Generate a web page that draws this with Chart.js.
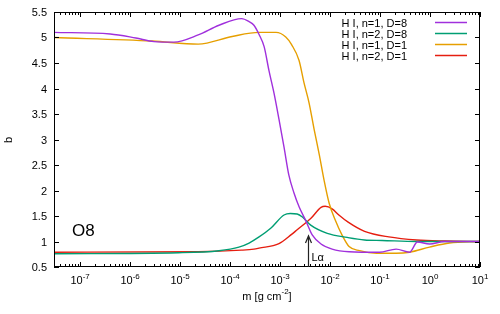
<!DOCTYPE html>
<html>
<head>
<meta charset="utf-8">
<script src="https://cdn.jsdelivr.net/npm/chart.js@4/dist/chart.umd.min.js"></script>
<style>
  html, body { margin: 0; padding: 0; background: #fff; }
  #wrap { width: 500px; height: 314px; position: relative; }
</style>
</head>
<body>
<div id="wrap"><canvas id="chart"></canvas></div>
<script>
// column mass m [g cm^-2] and departure coefficient b
const mN1D8 = [3e-8, 4e-7, 1.3e-6, 3.0e-6, 7.5e-6, 2.3e-5, 6.0e-5, 1.7e-4, 2.4e-4, 3.0e-4, 3.8e-4, 4.8e-4, 6.0e-4, 7.6e-4, 9.5e-4, 1.2e-3, 1.5e-3, 1.9e-3, 2.4e-3, 3.3e-3, 4.4e-3, 6.6e-3, 1.1e-2, 2.4e-2, 9.8e-2, 0.21, 0.39, 0.56, 0.98, 1.95, 10];
const bN1D8 = [5.10, 5.07, 4.99, 4.92, 4.91, 5.05, 5.24, 5.37, 5.31, 5.24, 5.06, 4.82, 4.35, 3.90, 3.40, 2.85, 2.30, 1.95, 1.68, 1.40, 1.13, 0.95, 0.85, 0.80, 0.79, 0.85, 0.79, 0.99, 0.95, 1.0, 1.0];

const mN2D8 = [3e-8, 9.3e-6, 6.0e-5, 1.5e-4, 2.4e-4, 3.8e-4, 6.5e-4, 1.2e-3, 1.6e-3, 2.2e-3, 2.8e-3, 4.1e-3, 8.8e-3, 2.2e-2, 4.9e-2, 0.11, 0.54, 10];
const bN2D8 = [0.76, 0.78, 0.82, 0.89, 0.97, 1.09, 1.26, 1.52, 1.55, 1.54, 1.48, 1.32, 1.16, 1.08, 1.03, 1.02, 1.0, 1.0];

const mN1D1 = [3e-8, 2.8e-6, 2.3e-5, 1.1e-4, 3.8e-4, 8.3e-4, 1.3e-3, 1.7e-3, 2.4e-3, 3.0e-3, 3.8e-3, 4.8e-3, 6.1e-3, 7.6e-3, 9.6e-3, 1.27e-2, 1.75e-2, 2.4e-2, 3.9e-2, 8.5e-2, 0.21, 0.39, 0.98, 2.45, 10];
const bN1D1 = [5.00, 4.93, 4.87, 5.02, 5.10, 5.10, 5.01, 4.86, 4.55, 4.12, 3.72, 3.20, 2.70, 2.20, 1.75, 1.42, 1.12, 0.90, 0.82, 0.77, 0.77, 0.79, 0.89, 0.97, 1.0];

const mN2D1 = [3e-8, 2.3e-5, 1.7e-4, 3.0e-4, 3.8e-4, 9.5e-4, 1.7e-3, 2.2e-3, 4.1e-3, 6.6e-3, 8.0e-3, 1.1e-2, 1.5e-2, 2.3e-2, 4.9e-2, 0.15, 0.54, 2.0, 10];
const bN2D1 = [0.79, 0.80, 0.83, 0.85, 0.87, 0.96, 1.14, 1.23, 1.45, 1.67, 1.69, 1.64, 1.52, 1.38, 1.20, 1.09, 1.03, 1.01, 1.0];

const seriesLabels = ['H I, n=1, D=8', 'H I, n=2, D=8', 'H I, n=1, D=1', 'H I, n=2, D=1'];
const seriesColors = ['#a030dc', '#009e73', '#e69f00', '#e51e10'];

const yTicks = [0.5, 1, 1.5, 2, 2.5, 3, 3.5, 4, 4.5, 5, 5.5];
const xTickExps = [-7, -6, -5, -4, -3, -2, -1, 0, 1];

const lyaM = 3.7e-3;   // L-alpha marker
const lyaTop = 1.11;

const FONT = '"Liberation Sans", Arial, sans-serif';

function pts(ms, bs) {
  return ms.map((m, i) => ({ x: m, y: bs[i] }));
}

const decor = {
  id: 'decor',
  afterDatasetsDraw(chart) {
    const { ctx, chartArea: a, scales } = chart;
    const x = scales.x, y = scales.y;
    ctx.save();
    ctx.fillStyle = '#000';
    ctx.strokeStyle = '#000';
    ctx.lineWidth = 1;

    // frame
    ctx.strokeRect(a.left + 0.5, a.top + 0.5, a.right - a.left - 1, a.bottom - a.top - 1);

    // y ticks + labels
    ctx.font = '11px ' + FONT;
    ctx.textAlign = 'right';
    ctx.textBaseline = 'middle';
    yTicks.forEach(v => {
      const py = Math.round(y.getPixelForValue(v)) + 0.5;
      ctx.beginPath();
      ctx.moveTo(a.left, py); ctx.lineTo(a.left + 5, py);
      ctx.moveTo(a.right, py); ctx.lineTo(a.right - 5, py);
      ctx.stroke();
      ctx.fillText(String(v), a.left - 7, py);
    });

    // x ticks, major + minor
    const tick = (v, len) => {
      const px = Math.round(x.getPixelForValue(v)) + 0.5;
      ctx.beginPath();
      ctx.moveTo(px, a.bottom); ctx.lineTo(px, a.bottom - len);
      ctx.moveTo(px, a.top); ctx.lineTo(px, a.top + len);
      ctx.stroke();
    };
    for (let e = -8; e <= 0; e++) {
      for (let k = 2; k <= 9; k++) {
        const v = k * Math.pow(10, e);
        if (v >= x.min && v <= x.max) tick(v, 3);
      }
    }
    xTickExps.forEach(e => tick(Math.pow(10, e), 5));

    // x labels as 10^e
    ctx.textAlign = 'left';
    ctx.textBaseline = 'alphabetic';
    xTickExps.forEach(e => {
      const px = x.getPixelForValue(Math.pow(10, e));
      const ex = String(e);
      ctx.font = '11px ' + FONT;
      const wb = ctx.measureText('10').width;
      ctx.font = '8px ' + FONT;
      const we = ctx.measureText(ex).width;
      const x0 = px - (wb + we) / 2;
      ctx.font = '11px ' + FONT;
      ctx.fillText('10', x0, 284);
      ctx.font = '8px ' + FONT;
      ctx.fillText(ex, x0 + wb, 278.5);
    });

    // axis titles
    ctx.font = '11px ' + FONT;
    const t1 = 'm [g cm', t2 = '-2', t3 = ']';
    const w1 = ctx.measureText(t1).width, w3 = ctx.measureText(t3).width;
    ctx.font = '8px ' + FONT;
    const w2 = ctx.measureText(t2).width;
    let tx = (a.left + a.right) / 2 - (w1 + w2 + w3) / 2;
    ctx.font = '11px ' + FONT;
    ctx.fillText(t1, tx, 299.5);
    ctx.font = '8px ' + FONT;
    ctx.fillText(t2, tx + w1, 294);
    ctx.font = '11px ' + FONT;
    ctx.fillText(t3, tx + w1 + w2, 299.5);

    ctx.save();
    ctx.translate(12, 140);
    ctx.rotate(-Math.PI / 2);
    ctx.textAlign = 'center';
    ctx.font = '11px ' + FONT;
    ctx.fillText('b', 0, 0);
    ctx.restore();

    // legend (right-aligned text, sample line to the right)
    ctx.font = '11px ' + FONT;
    ctx.textAlign = 'right';
    ctx.textBaseline = 'middle';
    ctx.lineWidth = 1.5;
    seriesLabels.forEach((lab, i) => {
      const ry = 22.5 + i * 11;
      ctx.fillStyle = '#000';
      ctx.fillText(lab, 407, ry + 1);
      ctx.strokeStyle = seriesColors[i];
      ctx.beginPath();
      ctx.moveTo(435, ry); ctx.lineTo(467, ry);
      ctx.stroke();
    });

    // model label
    ctx.fillStyle = '#000';
    ctx.textAlign = 'left';
    ctx.textBaseline = 'alphabetic';
    ctx.font = '17px ' + FONT;
    ctx.fillText('O8', 72, 236);

    // L-alpha arrow
    const ax = Math.round(x.getPixelForValue(lyaM)) + 0.5;
    const ay0 = y.getPixelForValue(0.5);
    const ay1 = y.getPixelForValue(lyaTop);
    ctx.strokeStyle = '#222';
    ctx.lineWidth = 1.2;
    ctx.beginPath();
    ctx.moveTo(ax, ay0); ctx.lineTo(ax, ay1);
    ctx.moveTo(ax - 3, ay1 + 7); ctx.lineTo(ax, ay1); ctx.lineTo(ax + 3, ay1 + 7);
    ctx.stroke();
    ctx.font = '11px ' + FONT;
    ctx.fillText('L\u03b1', ax + 3, 261);

    ctx.restore();
  }
};

const datasets = [
  pts(mN1D8, bN1D8),
  pts(mN2D8, bN2D8),
  pts(mN1D1, bN1D1),
  pts(mN2D1, bN2D1)
].map((d, i) => ({
  label: seriesLabels[i],
  data: d,
  borderColor: seriesColors[i],
  backgroundColor: seriesColors[i],
  borderWidth: 1.4,
  pointRadius: 0,
  cubicInterpolationMode: 'monotone',
  fill: false
}));

// draw order as in the original: purple, green, orange, red
new Chart(document.getElementById('chart'), {
  type: 'line',
  data: { datasets: datasets },
  options: {
    responsive: true,
    maintainAspectRatio: false,
    animation: false,
    layout: { padding: { left: 54, right: 20, top: 12, bottom: 47 } },
    plugins: { legend: { display: false }, tooltip: { enabled: false } },
    scales: {
      x: { type: 'logarithmic', min: 3e-8, max: 10, display: false },
      y: { type: 'linear', min: 0.5, max: 5.5, display: false }
    }
  },
  plugins: [decor]
});
</script>
</body>
</html>
